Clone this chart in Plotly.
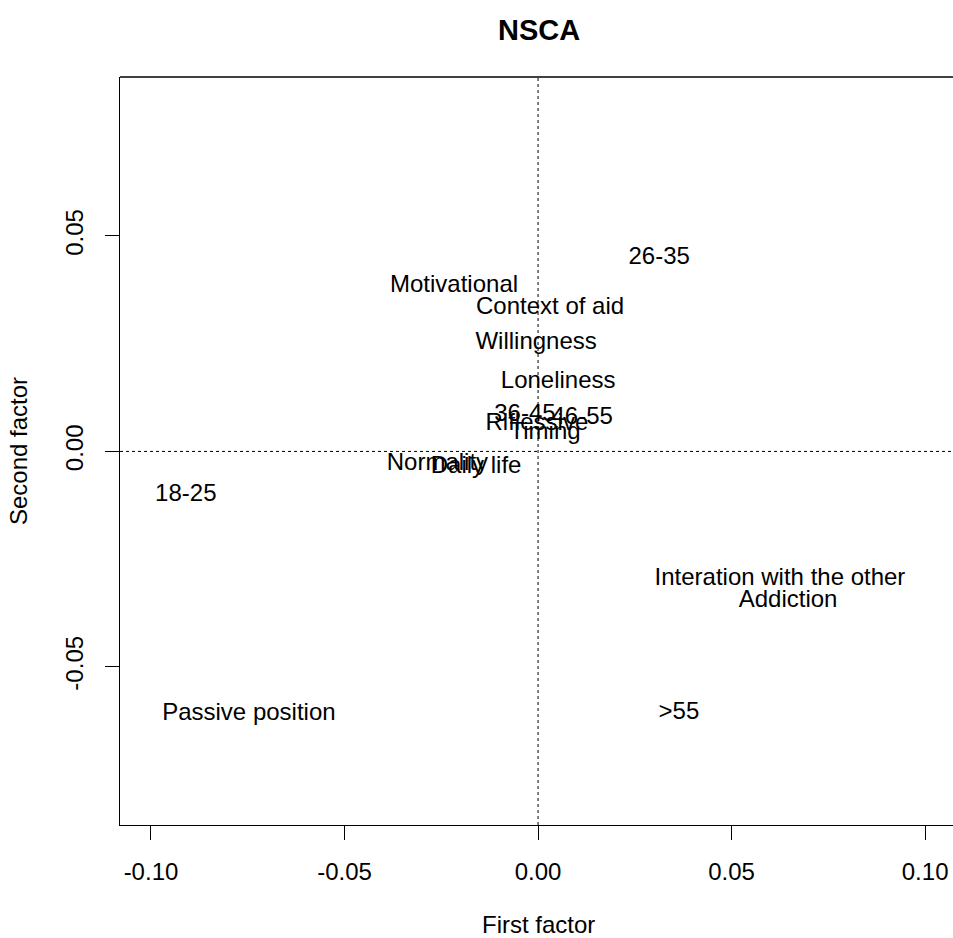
import plotly.graph_objects as go

labels = ["26-35", "Motivational", "Context of aid", "Willingness", "Loneliness",
          "36-45", "46-55", "Riflessive", "Timing", "Normality", "Daily life",
          "18-25", "Interation with the other", "Addiction", "Passive position", ">55"]
first_factor = [0.0313, -0.0217, 0.0031, -0.0005, 0.0052,
                -0.0034, 0.0114, -0.0003, 0.0018, -0.0260, -0.0160,
                -0.0910, 0.0625, 0.0646, -0.0747, 0.0364]
second_factor = [0.0450, 0.0385, 0.0332, 0.0251, 0.0160,
                 0.0084, 0.0077, 0.0063, 0.0042, -0.0030, -0.0037,
                 -0.0100, -0.0295, -0.0348, -0.0610, -0.0606]

x_ticks = [-0.10, -0.05, 0.0, 0.05, 0.10]
x_tick_text = ["-0.10", "-0.05", "0.00", "0.05", "0.10"]
y_ticks = [-0.05, 0.0, 0.05]
y_tick_text = ["-0.05", "0.00", "0.05"]

FONT = "Liberation Sans, Arial, Helvetica, sans-serif"
FS = 24

fig = go.Figure()
fig.add_trace(go.Scatter(
    x=first_factor, y=second_factor, text=labels, mode="text",
    textposition="middle center",
    textfont=dict(family=FONT, size=FS, color="black"),
    hoverinfo="text", showlegend=False, cliponaxis=False,
))

fig.update_layout(
    width=953, height=938,
    margin=dict(l=120, r=0, t=77, b=113),
    paper_bgcolor="white", plot_bgcolor="white",
    font=dict(family=FONT, size=FS, color="black"),
    xaxis=dict(range=[-0.108, 0.1072], tickvals=x_ticks, ticktext=x_tick_text,
               showgrid=False, zeroline=False, showline=True, linecolor="black",
               linewidth=1.3, ticks="outside", ticklen=14, tickcolor="black",
               tickwidth=1.3, ticklabelstandoff=11),
    yaxis=dict(range=[-0.0867, 0.0869], tickvals=y_ticks, ticktext=y_tick_text,
               showgrid=False, zeroline=False, showline=True, linecolor="black",
               linewidth=1.3, ticks="outside", ticklen=14, tickcolor="black",
               tickwidth=1.3, tickangle=-90, ticklabelstandoff=12),
    shapes=[
        dict(type="line", xref="paper", yref="paper", x0=0, x1=1, y0=1, y1=1,
             line=dict(color="black", width=1.3)),
        dict(type="line", xref="x", yref="paper", x0=0, x1=0, y0=0, y1=1,
             line=dict(color="black", width=1, dash="dot")),
        dict(type="line", xref="paper", yref="y", x0=0, x1=1, y0=0, y1=0,
             line=dict(color="black", width=1, dash="dot")),
    ],
    annotations=[
        dict(text="<b>NSCA</b>", xref="paper", yref="paper", x=0.503, y=1.0,
             yshift=47, xanchor="center", yanchor="middle", showarrow=False,
             font=dict(size=29, family=FONT)),
        dict(text="First factor", xref="paper", yref="paper", x=0.503, y=0,
             yshift=-99, xanchor="center", yanchor="middle", showarrow=False,
             font=dict(size=FS, family=FONT)),
        dict(text="Second factor", xref="paper", yref="paper", x=0, y=0.5,
             xshift=-102, xanchor="center", yanchor="middle", textangle=-90,
             showarrow=False, font=dict(size=FS, family=FONT)),
    ],
)

fig.write_html(
    "out.html",
    config={"displayModeBar": False},
    post_script="document.body.style.margin='0';document.body.style.overflow='hidden';",
)
